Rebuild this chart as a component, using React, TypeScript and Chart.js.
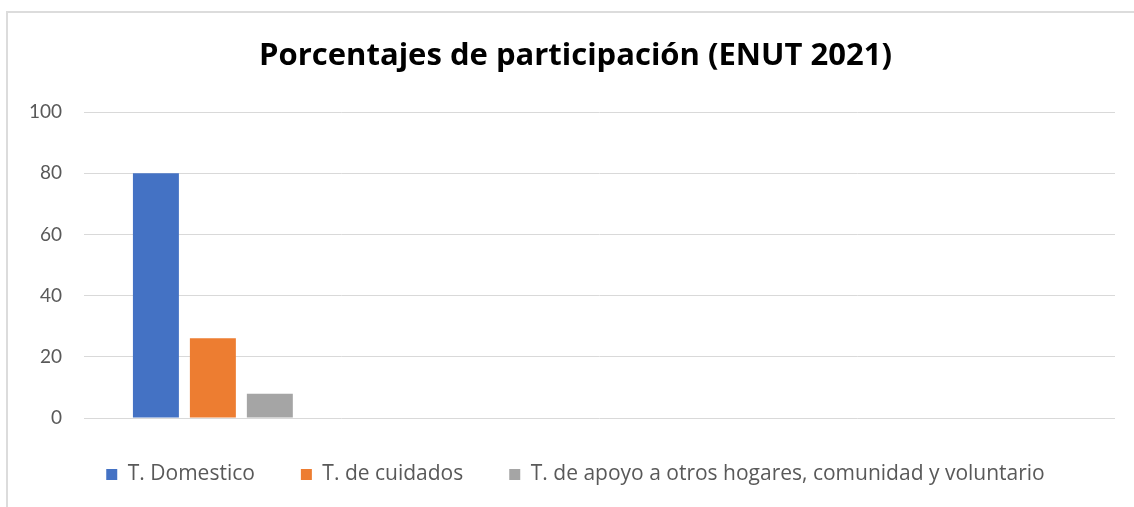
import React, { useEffect, useRef } from "react";
import { Chart, registerables } from "chart.js";

Chart.register(...registerables);

const categories = ["", "", "", ""];
const seriesNames = [
  "T. Domestico",
  "T. de cuidados",
  "T. de apoyo a otros hogares, comunidad y voluntario",
];
const domestico = [80, null, null, null];
const cuidados = [26.1, null, null, null];
const apoyo = [7.9, null, null, null];
const yTicks = [0, 20, 40, 60, 80, 100];
const titleText = "Porcentajes de participación (ENUT 2021)";

const colors = ["#4472C4", "#ED7D31", "#A5A5A5"];
const FONT = "'Open Sans', Lato, sans-serif";
const TICK_FONT = "Lato, 'Open Sans', sans-serif";

export default function App() {
  const ref = useRef<HTMLCanvasElement | null>(null);

  useEffect(() => {
    if (!ref.current) return;
    const seriesData = [domestico, cuidados, apoyo];
    const chart = new Chart(ref.current, {
      type: "bar",
      data: {
        labels: categories,
        datasets: seriesNames.map((name, i) => ({
          label: name,
          data: seriesData[i],
          backgroundColor: colors[i],
          borderWidth: 0,
          categoryPercentage: 0.663,
          barPercentage: 0.807,
        })),
      },
      options: {
        animation: false,
        responsive: false,
        maintainAspectRatio: false,
        layout: { padding: { left: 17, right: 0, top: 0, bottom: 12 } },
        plugins: {
          tooltip: { enabled: false },
          title: {
            display: true,
            text: titleText,
            color: "#000000",
            font: { family: FONT, size: 31, weight: "bold" },
            padding: { top: 37.9, bottom: 36.9 },
          },
          legend: {
            position: "bottom",
            labels: {
              color: "#595959",
              font: { family: FONT, size: 21 },
              boxWidth: 11,
              boxHeight: 11,
              padding: 46,
            },
          },
        },
        scales: {
          x: {
            display: false,
            grid: { display: false },
          },
          y: {
            min: 0,
            max: 100,
            afterFit: (axis: any) => {
              axis.width = 67;
            },
            afterBuildTicks: (axis: any) => {
              axis.ticks = yTicks.map((v) => ({ value: v }));
            },
            border: { display: false },
            grid: { color: "#d9d9d9", lineWidth: 1, drawTicks: false },
            ticks: {
              color: "#595959",
              font: { family: TICK_FONT, size: 19 },
              padding: 22,
            },
          },
          yRight: {
            position: "right",
            display: true,
            afterFit: (axis: any) => {
              axis.width = 19;
            },
            border: { display: false },
            grid: { display: false, drawTicks: false },
            ticks: { display: false },
          },
        },
      },
    });
    return () => chart.destroy();
  }, []);

  return (
    <div
      style={{
        position: "fixed",
        left: 0,
        top: 0,
        width: 1134,
        height: 507,
        overflow: "hidden",
        background: "#ffffff",
      }}
    >
      <div
        style={{
          position: "absolute",
          left: 6,
          top: 11,
          width: 1200,
          height: 600,
          border: "2px solid #dcdcdc",
        }}
      />
      <canvas
        ref={ref}
        width={1134}
        height={507}
        style={{ position: "absolute", left: 0, top: 0, width: 1134, height: 507 }}
      />
    </div>
  );
}
